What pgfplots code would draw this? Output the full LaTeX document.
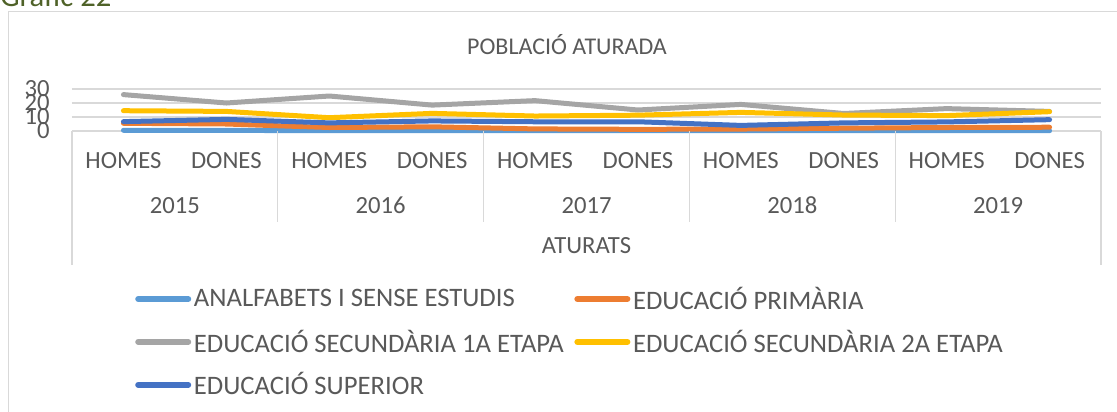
\documentclass[border=0pt]{standalone}
\usepackage{fontspec}
\setmainfont{Carlito}
\usepackage{pgfplots}
\pgfplotsset{compat=1.18}
\definecolor{c1}{HTML}{5B9BD5}
\definecolor{c2}{HTML}{ED7D31}
\definecolor{c3}{HTML}{A5A5A5}
\definecolor{c4}{HTML}{FFC000}
\definecolor{c5}{HTML}{4472C4}
\definecolor{txt}{HTML}{595959}
\definecolor{grd}{HTML}{D9D9D9}
\definecolor{grn}{RGB}{79,98,40}
\begin{document}
\begin{tikzpicture}
% page = 1117 x 411 px, 1px = 0.75pt
\path[use as bounding box, clip] (0pt,0pt) rectangle (837.75pt,-308.25pt);
\begin{scope}[x=0.75pt,y=-0.75pt]
\draw[grd, line width=0.75pt] (8,11) rectangle (1140,440);
\node[anchor=base west, inner sep=0, text=grn, font=\fontsize{23}{25}\selectfont] at (0,6) {Gràfic 22};
\node[text=txt, font=\fontsize{18}{20}\selectfont] at (567,45) {POBLACIÓ ATURADA};
\end{scope}
\begin{axis}[
  at={(54pt,-98.25pt)}, anchor=south west,
  scale only axis, width=771.75pt, height=31.5pt,
  xmin=-0.5, xmax=9.5, ymin=0, ymax=30,
  clip=false,
  axis line style={draw=none},
  major tick length=0pt,
  ymajorgrids, grid style={grd, line width=0.9pt},
  ytick={0,10,20,30},
  xtick={0,...,9},
  xticklabels={HOMES,DONES,HOMES,DONES,HOMES,DONES,HOMES,DONES,HOMES,DONES},
  xticklabel style={font=\fontsize{18.5}{20}\selectfont, text=txt, anchor=base, yshift=-27.75pt},
  yticklabel style={font=\fontsize{18.5}{20}\selectfont, text=txt, anchor=east, inner sep=0pt, xshift=-16.5pt},
  /pgf/number format/assume math mode=true,
  every axis plot/.append style={line width=3.75pt, line cap=round, line join=round, mark=none},
  legend columns=2,
  legend cell align=left,
  legend style={at={(0.0612,-3.64)}, anchor=north west, draw=none, fill=none,
    inner sep=0pt, font=\fontsize{20}{22}\selectfont, text=txt,
    /tikz/every even column/.append style={column sep=6pt},
    row sep=10pt},
  legend image code/.code={\draw[#1, line width=4.5pt, line cap=round] (2.25pt,0pt) -- (39.75pt,0pt);},
]
\addplot[c1] coordinates {(0,0.5) (1,0.4) (2,0.3) (3,0.3) (4,0.2) (5,0.2) (6,0.2) (7,0.2) (8,0.2) (9,0.2)};
\addlegendentry{ANALFABETS I SENSE ESTUDIS}
\addplot[c2] coordinates {(0,5.5) (1,5) (2,2.5) (3,3) (4,1.5) (5,1.2) (6,1.4) (7,2) (8,2.5) (9,2.7)};
\addlegendentry{EDUCACIÓ PRIMÀRIA}
\addplot[c3] coordinates {(0,26) (1,20) (2,25) (3,18.5) (4,21.7) (5,15) (6,19) (7,12.5) (8,16) (9,14)};
\addlegendentry{EDUCACIÓ SECUNDÀRIA 1A ETAPA}
\addplot[c4] coordinates {(0,14.5) (1,14) (2,9.5) (3,12.6) (4,10.7) (5,11.3) (6,13.3) (7,11.4) (8,11) (9,13.8)};
\addlegendentry{EDUCACIÓ SECUNDÀRIA 2A ETAPA}
\addplot[c5] coordinates {(0,6.7) (1,8.3) (2,5.8) (3,7.2) (4,6.6) (5,6.6) (6,4) (7,5.8) (8,6.5) (9,8.1)};
\addlegendentry{EDUCACIÓ SUPERIOR}
\end{axis}
\begin{scope}[x=0.75pt,y=-0.75pt]
\draw[grd, line width=1pt] (72,131) -- (72,265) (1101,131) -- (1101,265);
\foreach \sx in {277.8,483.6,689.4,895.2} \draw[grd, line width=1pt] (\sx,131) -- (\sx,222);
\foreach \cx/\yr in {174.9/2015,380.7/2016,586.5/2017,792.3/2018,998.1/2019}
  \node[anchor=base, text=txt, font=\fontsize{18.5}{20}\selectfont] at (\cx,213) {\yr};
\node[anchor=base, text=txt, font=\fontsize{18.5}{20}\selectfont] at (586.5,253) {ATURATS};
\end{scope}
\end{tikzpicture}
\end{document}
